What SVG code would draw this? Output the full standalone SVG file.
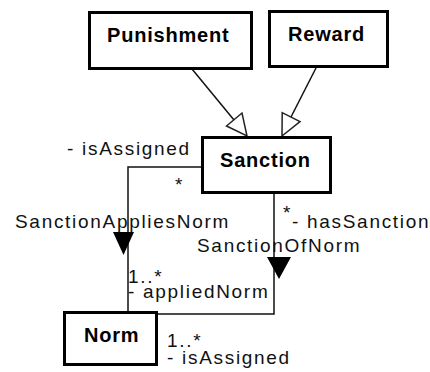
<svg xmlns="http://www.w3.org/2000/svg" width="430" height="372" viewBox="0 0 430 372">
  <style>
    .box { fill: #fff; stroke: #000; stroke-width: 3; }
    .name { font-family: "Liberation Sans", Arial, sans-serif; font-weight: bold; font-size: 20px; letter-spacing: 0.8px; fill: #000; }
    .lbl { font-family: "Liberation Sans", Arial, sans-serif; font-size: 19px; letter-spacing: 1.7px; fill: #111; }
    .edge { fill: none; stroke: #111; stroke-width: 1.5; }
    .gen { fill: #fff; stroke: #222; stroke-width: 1.5; stroke-linejoin: miter; }
    .nav { fill: #000; stroke: none; }
  </style>
  <rect width="430" height="372" fill="#fff"/>

  <!-- connectors -->
  <g id="connectors">
    <!-- generalizations -->
    <line class="edge" x1="192" y1="69" x2="234" y2="120"/>
    <polygon class="gen" points="247,136 242,113 226.5,126"/>
    <line class="edge" x1="316" y1="68" x2="291" y2="117"/>
    <polygon class="gen" points="282,136 282.2,112.7 300,121.7"/>
    <!-- SanctionAppliesNorm -->
    <polyline class="edge" points="201,167 128,167 128,312"/>
    <polygon class="nav" points="113,232 134,232 123.5,255"/>
    <!-- SanctionOfNorm -->
    <polyline class="edge" points="274,193 274,314 157,314"/>
    <polygon class="nav" points="267,257 291,257 279,279"/>
  </g>

  <g id="punishment">
    <rect class="box" x="89.5" y="12.5" width="162" height="56"/>
    <text class="name" x="107" y="42">Punishment</text>
  </g>
  <g id="reward">
    <rect class="box" x="269.5" y="11.5" width="118" height="55"/>
    <text class="name" x="288" y="41">Reward</text>
  </g>
  <g id="sanction">
    <rect class="box" x="202.5" y="137.5" width="128" height="55"/>
    <text class="name" x="220" y="167">Sanction</text>
  </g>
  <g id="norm">
    <rect class="box" x="64.5" y="312.5" width="92" height="52"/>
    <text class="name" x="84" y="342">Norm</text>
  </g>

  <!-- association labels -->
  <g id="labels">
    <text class="lbl" x="67" y="155">- isAssigned</text>
    <text class="lbl" x="175" y="191">*</text>
    <text class="lbl" x="15" y="228">SanctionAppliesNorm</text>
    <text class="lbl" x="128" y="283">1..*</text>
    <text class="lbl" x="128" y="298">- appliedNorm</text>
    <text class="lbl" x="283" y="219">*</text>
    <text class="lbl" x="292" y="228">- hasSanction</text>
    <text class="lbl" x="197" y="252">SanctionOfNorm</text>
    <text class="lbl" x="167" y="347">1..*</text>
    <text class="lbl" x="167" y="364">- isAssigned</text>
  </g>
</svg>
